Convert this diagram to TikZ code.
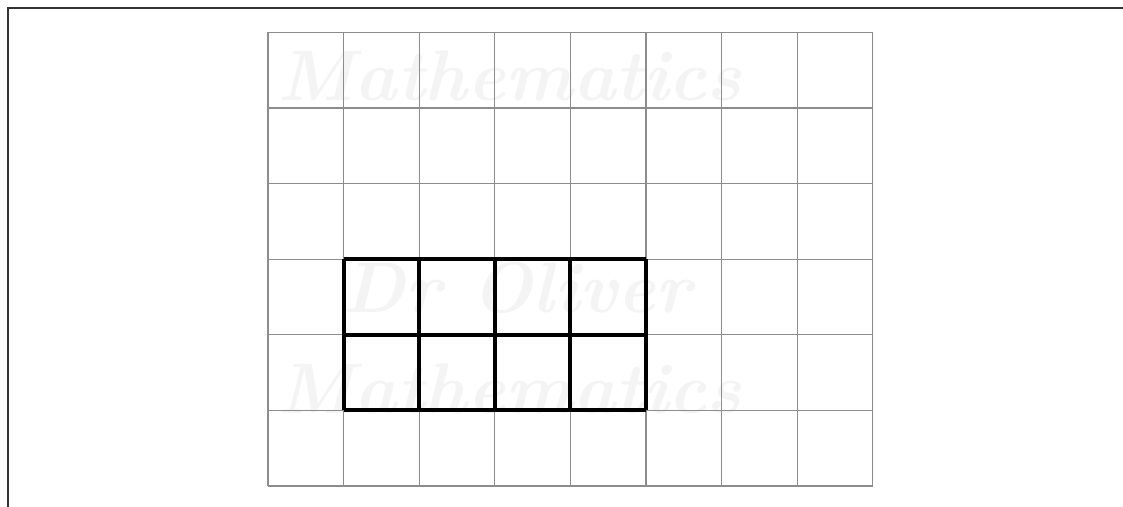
\documentclass[tikz,border=0pt]{standalone}
\usepackage{amsmath,amssymb}
\usepackage{xcolor}
\definecolor{wmgray}{gray}{0.955}
\definecolor{gridgray}{gray}{0.55}

\begin{document}
\begin{tikzpicture}[scale=1,wm/.style={text=wmgray, font=\fontsize{27}{30}\selectfont\bfseries\itshape, inner sep=0pt}]
\useasboundingbox (-3.545,-0.265) rectangle (11.31,6.429);
% watermark text, sits under the grid
\node[wm] (dr1) at (3.3,6.8) {Dr Oliver};
\node[wm] (ma1) at (3.2,5.42) {Mathematics};
\node[wm] (dr2) at (3.3,2.62) {Dr Oliver};
\node[wm] (ma2) at (3.2,1.28) {Mathematics};
% corner of the page frame
\coordinate (fb) at (-3.44,-0.4);
\coordinate (fc) at (-3.44,6.323);
\coordinate (fr) at (11.5,6.323);
\draw[black!80, line width=0.75pt] (fb) -- (fc) -- (fr);
% 8 by 6 grid
\draw[gridgray, line width=0.4pt] (0,0) grid (8,6);
% the 4 by 2 block
\draw[line width=1.5pt] (1,1) grid (5,3);
\end{tikzpicture}
\end{document}
